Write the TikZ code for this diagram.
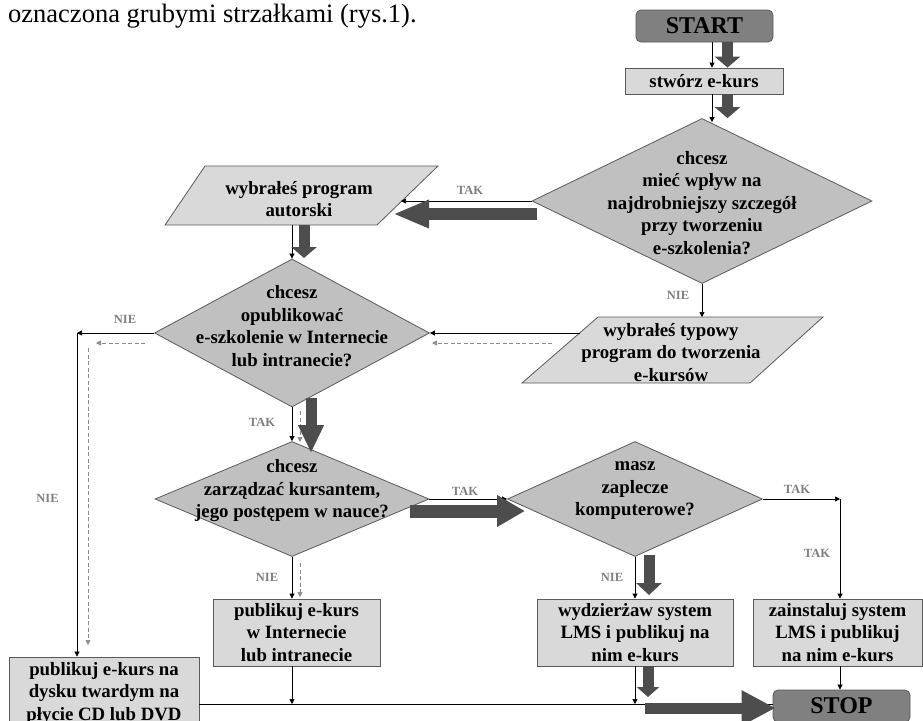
\documentclass[tikz,border=0pt]{standalone}
\usepackage{fontspec}
\setmainfont{Liberation Serif}
\usetikzlibrary{arrows.meta,shapes.geometric}
\definecolor{boxc}{HTML}{D9D9D9}
\definecolor{diac}{HTML}{C0C0C0}
\definecolor{termc}{HTML}{808080}
\definecolor{thickc}{HTML}{4D4D4D}
\definecolor{edgec}{HTML}{5A5A5A}
\definecolor{labc}{HTML}{808080}
\definecolor{dashc}{HTML}{8C8C8C}
\begin{document}
\begin{tikzpicture}[x=1pt,y=-1pt,
  btext/.style={font=\fontsize{18.8}{22.5}\selectfont\bfseries, align=center, inner sep=0pt},
  boxn/.style={draw=edgec, fill=boxc, line width=0.8pt, inner sep=0pt, btext},
  termn/.style={draw=edgec, fill=termc, rounded corners=5pt, line width=0.8pt, minimum width=137pt, minimum height=32pt, inner sep=0pt, font=\fontsize{24}{28}\selectfont\bfseries},
  dian/.style={diamond, draw=edgec, fill=diac, line width=0.8pt, inner sep=0pt},
  paran/.style={draw=edgec, fill=boxc, line width=0.8pt},
  thinarr/.style={draw=black, line width=0.7pt, -{Triangle[length=5pt,width=5pt]}},
  thinline/.style={draw=black, line width=0.7pt},
  dasharr/.style={draw=dashc, line width=0.7pt, dash pattern=on 4pt off 2.5pt, -{Triangle[length=5pt,width=5pt]}},
  thickv/.style={draw=thickc, line width=11pt, -{Triangle[length=11pt,width=25pt]}},
  thickh/.style={draw=thickc, line width=12pt, -{Triangle[length=32pt,width=28pt]}},
  lab/.style={text=labc, font=\fontsize{12.5}{14}\selectfont\bfseries, inner sep=0pt},
]
\useasboundingbox (0,0) rectangle (923,720);
\fill[white] (0,0) rectangle (923,720);

% caption text
\node[anchor=base west, inner sep=0pt, font=\fontsize{26.5}{30}\selectfont] (cap) at (8,22.5) {oznaczona grubymi strzałkami (rys.1).};

% terminals and boxes
\node[termn] (start) at (704.5,26) {START};
\node[boxn, minimum width=158pt, minimum height=26pt] (stw) at (704,81) {stwórz e-kurs};

% decision 1
\node[dian, minimum width=340pt, minimum height=165pt] (d1) at (702,201) {};
\node[btext] (d1t) at (702,203) {chcesz\\mieć wpływ na\\najdrobniejszy szczegół\\przy tworzeniu\\e-szkolenia?};

% parallelogram 1
\draw[paran] (165,225) -- (377,225) -- (438,166) -- (205,166) -- cycle;
\node[btext] (p1) at (299,199) {wybrałeś program\\autorski};
\coordinate (p1e) at (401,201);
\coordinate (p1s) at (292,225);

% parallelogram 2
\draw[paran] (522,383) -- (750,383) -- (823,317) -- (598,317) -- cycle;
\node[btext] (p2) at (671,352.5) {wybrałeś typowy\\program do tworzenia\\e-kursów};
\coordinate (p2n) at (702,317);
\coordinate (p2w) at (580,333);

% decision 2
\node[dian, minimum width=275pt, minimum height=148pt] (d2) at (292,333) {};
\node[btext] (d2t) at (292,326) {chcesz\\opublikować\\e-szkolenie w Internecie\\lub intranecie?};

% decision 3
\node[dian, minimum width=274pt, minimum height=115pt] (d3) at (292,499) {};
\node[btext] (d3t) at (292,491) {chcesz\\zarządzać kursantem,\\jego postępem w nauce?};

% decision 4
\node[dian, minimum width=255pt, minimum height=115pt] (d4) at (635,499) {};
\node[btext] (d4t) at (635,491) {masz\\zaplecze\\komputerowe?};

% bottom boxes
\node[boxn, minimum width=167pt, minimum height=67pt] (b1) at (296.5,632.5) {publikuj e-kurs\\w Internecie\\lub intranecie};
\node[boxn, minimum width=196pt, minimum height=67pt] (b2) at (635,632.5) {wydzierżaw system\\LMS i publikuj na\\nim e-kurs};
\node[boxn, minimum width=169pt, minimum height=67pt] (b3) at (837.5,632.5) {zainstaluj system\\LMS i publikuj\\na nim e-kurs};
\node[boxn, minimum width=190pt, minimum height=72pt] (b4) at (104,693) {publikuj e-kurs na\\dysku twardym na\\płycie CD lub DVD};
\node[termn] (stop) at (841.5,706) {STOP};

% helper coordinates
\coordinate (c1) at (77,333);
\coordinate (c2) at (840,499);
\coordinate (bline) at (0,704);

% thin arrows
\draw[thinarr] ([xshift=7.5pt]start.south) -- ([xshift=7.5pt]start.south |- stw.north);
\draw[thinarr] ([xshift=8pt]stw.south) -- ([xshift=8pt]stw.south |- d1.84);
\draw[thinarr] (d1.west) -- (p1e);
\draw[thinarr] (d1.south) -- (p2n);
\draw[thinarr] (p2w) -- (d2.east);
\draw[thinarr] (p1s) -- (d2.north);
\draw[thinarr] (d2.west) -- (c1);
\draw[thinarr] (c1) -- (c1 |- b4.north);
\draw[thinarr] (d2.south) -- (d3.north);
\draw[thinarr] (d3.east) -- (d4.west);
\draw[thinarr] (d4.east) -- (c2);
\draw[thinarr] (c2) -- (c2 |- b3.north);
\draw[thinarr] (d4.south) -- (b2.north);
\draw[thinarr] (d3.south) -- (d3.south |- b1.north);
\draw[thinarr] (d3.south |- b1.south) -- (d3.south |- bline);
\draw[thinarr] (b2.south) -- (b2.south |- bline);
\draw[thinline] (b4.east |- bline) -- (stop.west |- bline);
\draw[thinarr] (c2 |- b3.south) -- (c2 |- stop.north);

% dashed gray arrows
\coordinate (da1) at (145,343); \coordinate (da2) at (96,343);
\coordinate (db1) at (88,348);  \coordinate (db2) at (88,645);
\coordinate (dc1) at (552,343); \coordinate (dc2) at (432,343);
\coordinate (dd1) at (300,411); \coordinate (dd2) at (300,442);
\coordinate (de1) at (300,563); \coordinate (de2) at (300,597);
\draw[dasharr] (da1) -- (da2);
\draw[dasharr] (db1) -- (db2);
\draw[dasharr] (dc1) -- (dc2);
\draw[dasharr] (dd1) -- (dd2);
\draw[dasharr] (de1) -- (de2);

% thick arrows (main path)
\draw[thickv] ([xshift=23pt]start.south) -- ([xshift=23pt]start.south |- stw.north);
\draw[thickv] ([xshift=23.5pt]stw.south) -- ([xshift=23.5pt]stw.south |- d1.north);
\coordinate (t3a) at (537,214); \coordinate (t3b) at (393,214);
\draw[thickh, -{Triangle[length=36pt,width=26pt]}] (t3a) -- (t3b);
\coordinate (t4a) at (304,225); \coordinate (t4b) at (304,258);
\draw[thickv] (t4a) -- (t4b);
\coordinate (t5a) at (311,398); \coordinate (t5b) at (311,453);
\draw[thickh, line width=11pt, -{Triangle[length=28pt,width=24pt]}] (t5a) -- (t5b);
\coordinate (t6a) at (410,511); \coordinate (t6b) at (525,511);
\draw[thickh, line width=13pt, -{Triangle[length=28pt,width=30pt]}] (t6a) -- (t6b);
\coordinate (t7a) at (649,555); \coordinate (t7b) at (649,595);
\draw[thickv, -{Triangle[length=12pt,width=25pt]}] (t7a) -- (t7b);
\coordinate (t8a) at (648,666); \coordinate (t8b) at (648,697);
\draw[thickv, -{Triangle[length=10pt,width=22pt]}] (t8a) -- (t8b);
\coordinate (t9a) at (645,708);
\draw[thickh, line width=11pt, -{Triangle[length=34pt,width=33pt]}] (t9a) -- ([xshift=3pt]stop.west |- t9a);

% labels
\node[lab] (l1) at (470,190) {TAK};
\node[lab] (l2) at (678,295) {NIE};
\node[lab] (l3) at (125,319) {NIE};
\node[lab] (l4) at (47.5,498) {NIE};
\node[lab] (l5) at (262,422) {TAK};
\node[lab] (l6) at (465,491) {TAK};
\node[lab] (l7) at (797,489) {TAK};
\node[lab] (l8) at (817,553) {TAK};
\node[lab] (l9) at (612,577) {NIE};
\node[lab] (l10) at (267,577) {NIE};
\end{tikzpicture}
\end{document}
